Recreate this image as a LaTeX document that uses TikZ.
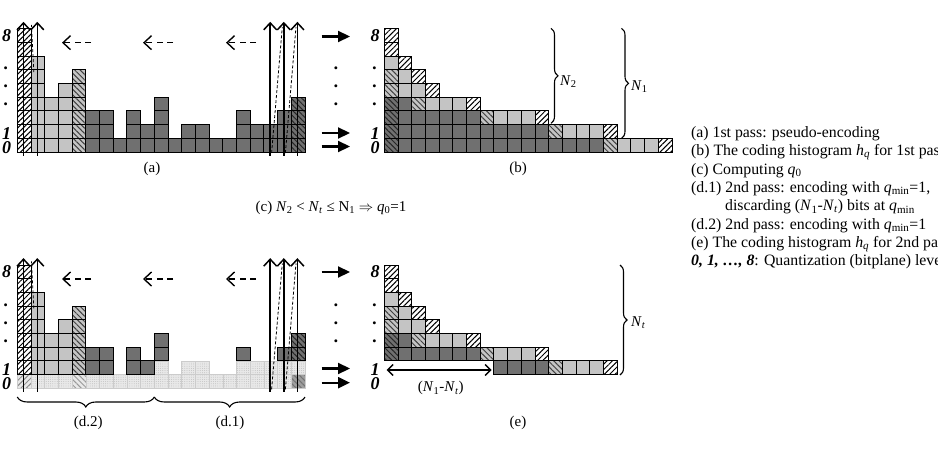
\documentclass[tikz,border=0pt]{standalone}
\usepackage{fontspec}
\setmainfont{Liberation Serif}
\usetikzlibrary{patterns.meta,arrows.meta,decorations.pathreplacing}
\definecolor{dk}{gray}{0.44}
\definecolor{lt}{gray}{0.77}
\definecolor{fd}{gray}{0.91}
\definecolor{fdl}{gray}{0.80}
\definecolor{fdd}{gray}{0.62}
\tikzset{
  hatchA/.style={pattern={Lines[angle=45,distance=3.8pt,line width=1pt]}},
  hatchB/.style={pattern={Lines[angle=-45,distance=3.8pt,line width=1pt]}},
  dotty/.style={pattern={Dots[distance=2.2pt,radius=0.4pt]},pattern color=black!30},
  cW/.style={preaction={fill=white},hatchA,pattern color=black,draw=black,line width=1pt},
  cL/.style={fill=lt,draw=black,line width=1pt},
  cLH/.style={preaction={fill=lt},hatchB,pattern color=black!75,draw=black,line width=1pt},
  cD/.style={fill=dk,draw=black,line width=1pt},
  cDH/.style={preaction={fill=dk},hatchB,pattern color=black!85,draw=black,line width=1pt},
  cF/.style={preaction={fill=fd},dotty,draw=fdl,line width=0.6pt},
  cFW/.style={preaction={fill=fd},hatchA,pattern color=black!45,draw=fdl,line width=0.6pt},
  cFH/.style={preaction={fill=fd},hatchB,pattern color=black!40,draw=fdl,line width=0.6pt},
  cFD/.style={preaction={fill=fdd},hatchB,pattern color=black!55,draw=fdl,line width=0.6pt},
  lev/.style={font=\fontsize{18}{18}\selectfont\bfseries\itshape,inner sep=0pt,anchor=base},
  captxt/.style={font=\fontsize{15}{18}\selectfont,inner sep=0pt},
  leg/.style={font=\fontsize{15.8}{18}\selectfont,inner sep=0pt,anchor=base west},
  scan/.style={line width=1.6pt,-{Straight Barb[length=7pt,width=13pt,line width=1.5pt]}},
  back/.style={line width=1.5pt,dash pattern=on 6pt off 4.5pt,-{Straight Barb[length=7.5pt,width=14pt,line width=1.4pt]}},
  pass/.style={line width=2.2pt,-{Triangle[length=12pt,width=11pt]}},
  dsh/.style={line width=0.8pt,dash pattern=on 3pt off 2pt},
  brc/.style={decorate,decoration={brace,amplitude=#1},line width=1.1pt},
  dbl/.style={line width=1.5pt,{Straight Barb[length=5.5pt,width=11pt,line width=1.4pt]}-{Straight Barb[length=5.5pt,width=11pt,line width=1.4pt]}},
}
\newcommand\cellA[5]{\path[#1] ({#2+(#4)*13.7},{#3-(#5)*13.7}) rectangle ++(13.7,-13.7);}
\newcommand\hrowfull[3]{%
  \cellA{cDH}{384.3}{#1}{0}{#2}%
  \foreach \c in {1,...,#3} {\cellA{cD}{384.3}{#1}{\c}{#2}}%
  \cellA{cLH}{384.3}{#1}{#3+1}{#2}%
  \foreach \c in {2,3,4} {\cellA{cL}{384.3}{#1}{#3+\c}{#2}}%
  \cellA{cW}{384.3}{#1}{#3+5}{#2}}
\newcommand\toprows[1]{%
  \hrowfull{#1}{2}{6}\hrowfull{#1}{3}{1}%
  \cellA{cLH}{384.3}{#1}{0}{4}\cellA{cL}{384.3}{#1}{1}{4}\cellA{cL}{384.3}{#1}{2}{4}\cellA{cW}{384.3}{#1}{3}{4}%
  \cellA{cLH}{384.3}{#1}{0}{5}\cellA{cL}{384.3}{#1}{1}{5}\cellA{cW}{384.3}{#1}{2}{5}%
  \cellA{cL}{384.3}{#1}{0}{6}\cellA{cW}{384.3}{#1}{1}{6}%
  \cellA{cW}{384.3}{#1}{0}{7}\cellA{cW}{384.3}{#1}{0}{8}}
\def\Acols{0/9/cW,1/7/cL,2/4/cL,3/5/cL,4/6/cLH,5/3/cD,6/3/cD,7/1/cD,8/3/cD,9/2/cD,10/4/cD,11/1/cD,12/2/cD,13/2/cD,14/1/cD,15/1/cD,16/3/cD,17/2/cD,18/2/cD,19/3/cD,20/4/cDH}
\begin{document}
\begin{tikzpicture}[x=1pt,y=-1pt]
\clip (0,0) rectangle (938,452);
% ---------- panel (a)
\foreach \c/\h/\ty in \Acols {\foreach \r in {1,...,\h} {\cellA{\ty}{17.3}{152}{\c}{\r-1}}}
% ---------- panel (d)
\foreach \c in {1,2,3,5,6,...,19} {\cellA{cF}{17.3}{388.3}{\c}{0}}
\cellA{cFW}{17.3}{388.3}{0}{0}
\cellA{cFH}{17.3}{388.3}{4}{0}
\cellA{cFD}{17.3}{388.3}{20}{0}
\foreach \c in {10,12,13,16,17,18,19,20} {\cellA{cF}{17.3}{388.3}{\c}{1}}
\foreach \c/\h/\ty in \Acols {%
  \ifnum\c<10 \def\st{2}\else\def\st{3}\fi
  \ifnum\h<\st\relax\else
    \foreach \r in {\st,...,\h} {\cellA{\ty}{17.3}{388.3}{\c}{\r-1}}%
  \fi}
% ---------- panel (b)
\hrowfull{152}{0}{15}
\hrowfull{152}{1}{11}
\toprows{152}
% ---------- panel (e)
\toprows{388.3}
\foreach \c in {8,9,10,11} {\cellA{cD}{384.3}{388.3}{\c}{1}}
\cellA{cLH}{384.3}{388.3}{12}{1}
\foreach \c in {13,14,15} {\cellA{cL}{384.3}{388.3}{\c}{1}}
\cellA{cW}{384.3}{388.3}{16}{1}
% ---------- scan arrows and dashed lines
\foreach \p/\yb/\yt in {a/155.5/21.8,d/391.8/258.1} {
  \foreach \i/\x in {1/23.5,2/37.3,3/270.2,4/283.8,5/297.4} {
    \coordinate (s\p\i b) at (\x,\yb);
    \coordinate (s\p\i t) at (\x,\yt);
    \draw[scan] (s\p\i b) -- (s\p\i t);
  }
}
\foreach \p/\dy in {a/0,d/236.3} {
  \coordinate (q\p1b) at (33.8,72+\dy);   \coordinate (q\p1t) at (31.5,25+\dy);
  \coordinate (q\p2b) at (271.6,153+\dy); \coordinate (q\p2t) at (282.3,27+\dy);
  \coordinate (q\p3b) at (285.4,153+\dy); \coordinate (q\p3t) at (296,27+\dy);
  \draw[dsh] (q\p1b) -- (q\p1t);
  \draw[dsh] (q\p2b) -- (q\p2t);
  \draw[dsh] (q\p3b) -- (q\p3t);
  \foreach \j/\xs/\xe in {1/91/62,2/173/143,3/256/226} {
    \coordinate (r\p\j s) at (\xs,42.7+\dy);
    \coordinate (r\p\j e) at (\xe,42.7+\dy);
    \draw[back] (r\p\j s) -- (r\p\j e);
  }
}
% ---------- pass arrows
\foreach \n/\y in {1/36.5,2/133,3/146.5,4/272,5/368.5,6/382.7} {
  \coordinate (pa\n s) at (321.7,\y);
  \coordinate (pa\n e) at (350,\y);
  \draw[pass] (pa\n s) -- (pa\n e);
}
% ---------- level labels
\foreach \p/\x/\dy in {a/6.5/0,b/375/0,d/6.5/236.3,e/375/236.3} {
  \node[lev] (l\p8) at (\x,41.6+\dy) {8};
  \node[lev] (l\p d1) at (\x,70+\dy) {.};
  \node[lev] (l\p d2) at (\x,88+\dy) {.};
  \node[lev] (l\p d3) at (\x,106+\dy) {.};
  \node[lev] (l\p1) at (\x,139.6+\dy) {1};
  \node[lev] (l\p0) at (\x,153.4+\dy) {0};
}
\foreach \p/\dy in {b/0,e/236.3} {
  \node[lev] (m\p d1) at (336.5,70+\dy) {.};
  \node[lev] (m\p d2) at (336.5,88+\dy) {.};
  \node[lev] (m\p d3) at (336.5,106+\dy) {.};
}
% ---------- braces
\coordinate (bn2t) at (551,28.3); \coordinate (bn2b) at (551,123.3);
\coordinate (bn1t) at (621.5,28.3); \coordinate (bn1b) at (621.5,138.3);
\coordinate (bntt) at (620,265); \coordinate (bntb) at (620,375);
\draw[brc=7pt] (bn2t) -- (bn2b);
\draw[brc=7pt] (bn1t) -- (bn1b);
\draw[brc=7pt] (bntt) -- (bntb);
\node[captxt,anchor=west] (n2) at (560,81.7) {\textit{N}\textsubscript{2}};
\node[captxt,anchor=west] (n1) at (631,86.7) {\textit{N}\textsubscript{1}};
\node[captxt,anchor=west] (nt) at (631,323) {\textit{N}\textsubscript{\textit{t}}};
\coordinate (bd2r) at (154.3,397); \coordinate (bd2l) at (17.3,397);
\coordinate (bd1r) at (305,397); \coordinate (bd1l) at (154.3,397);
\draw[brc=10pt] (bd2r) -- (bd2l);
\draw[brc=10pt] (bd1r) -- (bd1l);
% ---------- (N1-Nt) arrow
\coordinate (dl) at (386.7,370); \coordinate (dr) at (491.7,370);
\draw[dbl] (dl) -- (dr);
\node[captxt] (dlab) at (440.8,388.3) {(\textit{N}\textsubscript{1}-\textit{N}\textsubscript{\textit{t}})};
% ---------- captions
\node[captxt] (capa) at (152,169) {(a)};
\node[captxt] (capb) at (518,169) {(b)};
\node[captxt] (capc) at (331,208) {(c) \textit{N}\textsubscript{2} < \textit{N}\textsubscript{\textit{t}} ≤ N\textsubscript{1} $\Rightarrow$ \textit{q}\textsubscript{0}=1};
\node[captxt] (capd2) at (88.3,422.7) {(d.2)};
\node[captxt] (capd1) at (230,422.7) {(d.1)};
\node[captxt] (cape) at (518,422.7) {(e)};
% ---------- legend
\node[leg] (g1) at (691,137.3) {(a) 1st pass: pseudo-encoding};
\node[leg] (g2) at (691,155.65) {(b) The coding histogram \textit{h}\textsubscript{\textit{q}} for 1st pass};
\node[leg] (g3) at (691,174) {(c) Computing \textit{q}\textsubscript{0}};
\node[leg] (g4) at (691,192.35) {(d.1) 2nd pass: encoding with \textit{q}\textsubscript{min}=1,};
\node[leg] (g5) at (725,210.7) {discarding (\textit{N}\textsubscript{1}-\textit{N}\textsubscript{\textit{t}}) bits at \textit{q}\textsubscript{min}};
\node[leg] (g6) at (691,229.05) {(d.2) 2nd pass: encoding with \textit{q}\textsubscript{min}=1};
\node[leg] (g7) at (691,247.4) {(e) The coding histogram \textit{h}\textsubscript{\textit{q}} for 2nd pass};
\node[leg] (g8) at (691,265.75) {\textbf{\textit{0, 1, …, 8}}: Quantization (bitplane) levels};
\end{tikzpicture}
\end{document}
